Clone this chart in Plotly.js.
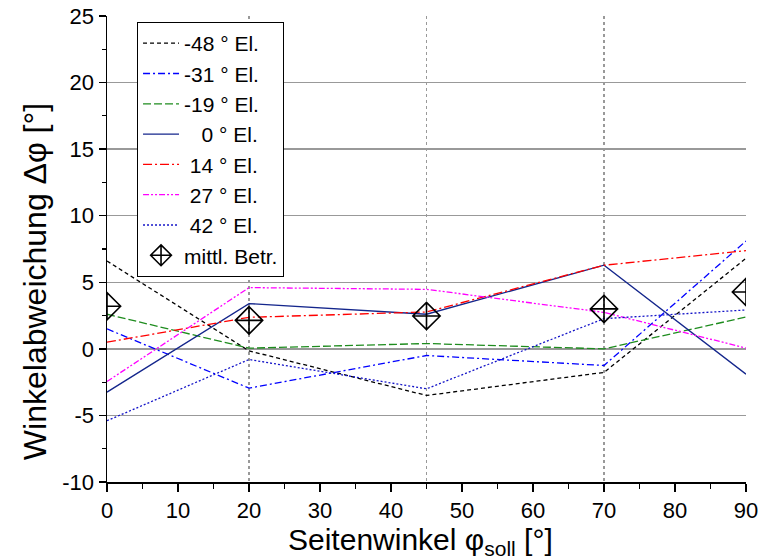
<!DOCTYPE html>
<html>
<head>
<meta charset="utf-8">
<script src="https://cdn.plot.ly/plotly-3.0.1.min.js"></script>
<style>html,body{margin:0;padding:0;background:#fff;}#chart{width:758px;height:559px;}</style>
</head>
<body>
<div id="chart"></div>
<script>
// Azimuth angles (x)
const phiSoll = [0, 20, 45, 70, 90];
// Elevation series names
const names = ["-48 ° El.", "-31 ° El.", "-19 ° El.", "\u2007\u00a00 ° El.", "\u00a014 ° El.", "\u00a027 ° El.", "\u00a042 ° El."];
// Deviation values per elevation
const elM48 = [6.6, -0.15, -3.5, -1.77, 6.8];
const elM31 = [1.5, -2.95, -0.5, -1.25, 8.1];
const elM19 = [2.6, 0.05, 0.4, 0.0, 2.39];
const el0   = [-3.25, 3.4, 2.6, 6.28, -1.9];
const el14  = [0.5, 2.37, 2.77, 6.28, 7.38];
const el27  = [-2.45, 4.6, 4.47, 2.74, 0.06];
const el42  = [-5.4, -0.8, -3.0, 2.27, 2.92];
// Mean absolute deviation
const meanName = "mittl. Betr.";
const meanAbs = [3.2, 2.14, 2.47, 3.0, 4.27];
// Dotted vertical grid positions
const measPos = [20, 45, 70, 90];
// Tick labels
const xTickVals = [0, 10, 20, 30, 40, 50, 60, 70, 80, 90];
const xTickText = ["0", "10", "20", "30", "40", "50", "60", "70", "80", "90"];
const yTickVals = [-10, -5, 0, 5, 10, 15, 20, 25];
const yTickText = ["-10", "-5", "0", "5", "10", "15", "20", "25"];

const seriesVals = [elM48, elM31, elM19, el0, el14, el27, el42];
const colors = ["#000000", "#0000ff", "#1e8c1e", "#14268c", "#ff0000", "#ff00ff", "#1414c8"];
const dashes = ["4px,3px", "7px,3px,2px,3px", "8px,3px", "solid", "9px,3px,2px,3px", "6px,2px,2px,2px,2px,2px", "2px,2px"];

const traces = seriesVals.map((v, i) => ({
  type: 'scatter', mode: 'lines', x: phiSoll, y: v, name: names[i],
  line: {color: colors[i], width: 1.3, dash: dashes[i]}
}));
traces.push({
  type: 'scatter', mode: 'markers', x: phiSoll, y: meanAbs, name: meanName,
  marker: {symbol: 'diamond-cross-open', size: 21, color: '#000', line: {width: 1.6, color: '#000'}}
});
// dummy trace to activate xaxis2 grid
traces.push({type:'scatter', mode:'none', x:[0,90], y:[0,0], xaxis:'x2', showlegend:false, hoverinfo:'skip'});

const fam = 'Arial, "Liberation Sans", sans-serif';
const font = {family: fam, color: '#000'};

const layout = {
  width: 758, height: 559,
  margin: {l: 107, r: 12, t: 16, b: 77},
  paper_bgcolor: '#fff', plot_bgcolor: '#fff',
  font: font,
  showlegend: true,
  legend: {
    x: 0.047, y: 0.987, xanchor: 'left', yanchor: 'top',
    bgcolor: '#fff', bordercolor: '#000', borderwidth: 1,
    font: {family: fam, size: 21, color: '#000'},
    itemwidth: 36,
    tracegroupgap: 0
  },
  xaxis: {
    range: [0, 90], tickmode: 'array', tickvals: xTickVals, ticktext: xTickText,
    showgrid: false, zeroline: false,
    showline: true, linecolor: '#000', linewidth: 1.5,
    ticks: 'outside', ticklen: 8, tickwidth: 1.3, tickcolor: '#000',
    ticklabeloverflow: 'allow',
    minor: {dtick: 5, tick0: 0, ticks: 'outside', ticklen: 5, tickwidth: 1.2, tickcolor: '#000', showgrid: false},
    tickfont: {family: fam, size: 22, color: '#000'}
  },
  xaxis2: {
    overlaying: 'x', range: [0, 90], tickmode: 'array', tickvals: measPos,
    showgrid: true, gridcolor: '#999', griddash: 'dot', gridwidth: 1.2,
    showticklabels: false, ticks: '', showline: false, zeroline: false
  },
  yaxis: {
    range: [-10, 25], tickmode: 'array', tickvals: yTickVals, ticktext: yTickText,
    showgrid: true, gridcolor: '#999', gridwidth: 1.3,
    zeroline: false,
    showline: true, linecolor: '#000', linewidth: 1.5,
    ticks: 'outside', ticklen: 7, tickwidth: 1.3, tickcolor: '#000',
    ticklabeloverflow: 'allow',
    minor: {dtick: 2.5, tick0: 0, ticks: 'outside', ticklen: 4, tickwidth: 1.2, tickcolor: '#000', showgrid: false},
    tickfont: {family: fam, size: 22, color: '#000'}
  },
  annotations: [
    {xref: 'paper', yref: 'paper', x: -0.1127, y: 0.431, xanchor: 'center', yanchor: 'middle',
     textangle: -90, showarrow: false, text: 'Winkelabweichung Δφ [°]',
     font: {family: fam, size: 32, color: '#000'}},
    {xref: 'paper', yref: 'paper', x: 0.491, y: -0.127, xanchor: 'center', yanchor: 'middle',
     showarrow: false, text: 'Seitenwinkel φ<sub>soll</sub> [°]',
     font: {family: fam, size: 30, color: '#000'}}
  ]
};

Plotly.newPlot('chart', traces, layout, {displayModeBar: false, staticPlot: true});
</script>
</body>
</html>
